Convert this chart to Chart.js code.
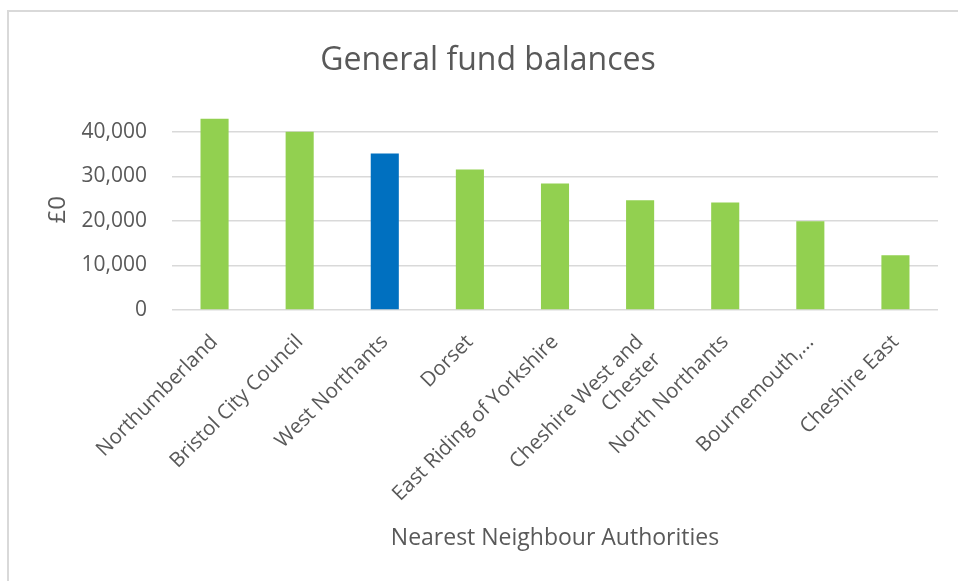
<!DOCTYPE html>
<html>
<head>
<meta charset="utf-8">
<script src="https://cdn.jsdelivr.net/npm/chart.js@4.4.0/dist/chart.umd.min.js"></script>
<style>
	html, body { margin: 0; padding: 0; background: #fff; overflow: hidden; }
</style>
</head>
<body>
<canvas id="chart" width="958" height="581"></canvas>
<script>
// Nearest neighbour authorities, general fund balances (£000)
var authorities = [
	'Northumberland',
	'Bristol City Council',
	'West Northants',
	'Dorset',
	'East Riding of Yorkshire',
	['Cheshire West and', 'Chester'],
	'North Northants',
	'Bournemouth,...',
	'Cheshire East'
];
var balances = [42900, 40000, 35100, 31500, 28400, 24600, 24100, 19900, 12300];
var highlight = 'West Northants';

var yMax = 45000;
var yStep = 5000;
var yLabelStep = 10000;

var green = '#92D050';
var blue = '#0070C0';
var textColour = '#595959';

var barColours = [];
for (var i in authorities) {
	barColours.push(authorities[i] === highlight ? blue : green);
}

// light frame along the top and left edge of the chart
var framePlugin = {
	id: 'frame',
	beforeDraw: function(chart) {
		var c = chart.ctx;
		c.save();
		c.strokeStyle = '#d9d9d9';
		c.lineWidth = 2;
		c.beginPath();
		c.moveTo(8, chart.height);
		c.lineTo(8, 11);
		c.lineTo(chart.width, 11);
		c.stroke();
		c.restore();
	}
};

var ctx = document.getElementById('chart');

var chart = new Chart(ctx, {
	type: 'bar',
	data: {
		labels: authorities,
		datasets: [
			{
				label: 'General fund balances',
				data: balances,
				backgroundColor: barColours,
				borderWidth: 0,
				categoryPercentage: 1,
				barPercentage: 0.33
			}
		]
	},
	plugins: [framePlugin],
	options: {
		responsive: false,
		animation: false,
		layout: {
			padding: { left: 38, right: 20, top: 0, bottom: 20 }
		},
		plugins: {
			legend: { display: false },
			tooltip: { enabled: false },
			title: {
				display: true,
				text: 'General fund balances',
				color: textColour,
				font: { family: 'Open Sans', size: 32, weight: 'normal' },
				padding: { top: 42, bottom: 29 }
			}
		},
		scales: {
			x: {
				grid: { display: false },
				border: { display: false },
				ticks: {
					color: textColour,
					font: { family: 'Open Sans', size: 20.5 },
					maxRotation: 45,
					minRotation: 45,
					autoSkip: false,
					padding: 12
				},
				title: {
					display: true,
					text: 'Nearest Neighbour Authorities',
					color: textColour,
					font: { family: 'Open Sans', size: 23 },
					padding: { top: 0, bottom: 9 }
				},
				afterFit: function(scale) {
					scale.height = 251;
				}
			},
			y: {
				min: 0,
				max: yMax,
				grid: { color: '#d9d9d9', lineWidth: 1.5, drawTicks: false },
				border: { display: false },
				ticks: {
					stepSize: yStep,
					color: textColour,
					font: { family: 'Open Sans', size: 21 },
					padding: 25,
					callback: function(value) {
						if (value % yLabelStep !== 0) return '';
						return value.toLocaleString('en-GB');
					}
				},
				title: {
					display: true,
					text: '£0',
					color: textColour,
					font: { family: 'Open Sans', size: 24 },
					padding: { top: 6, bottom: 0 }
				},
				afterFit: function(scale) {
					scale.width = 134;
				}
			}
		}
	}
});
</script>
</body>
</html>
